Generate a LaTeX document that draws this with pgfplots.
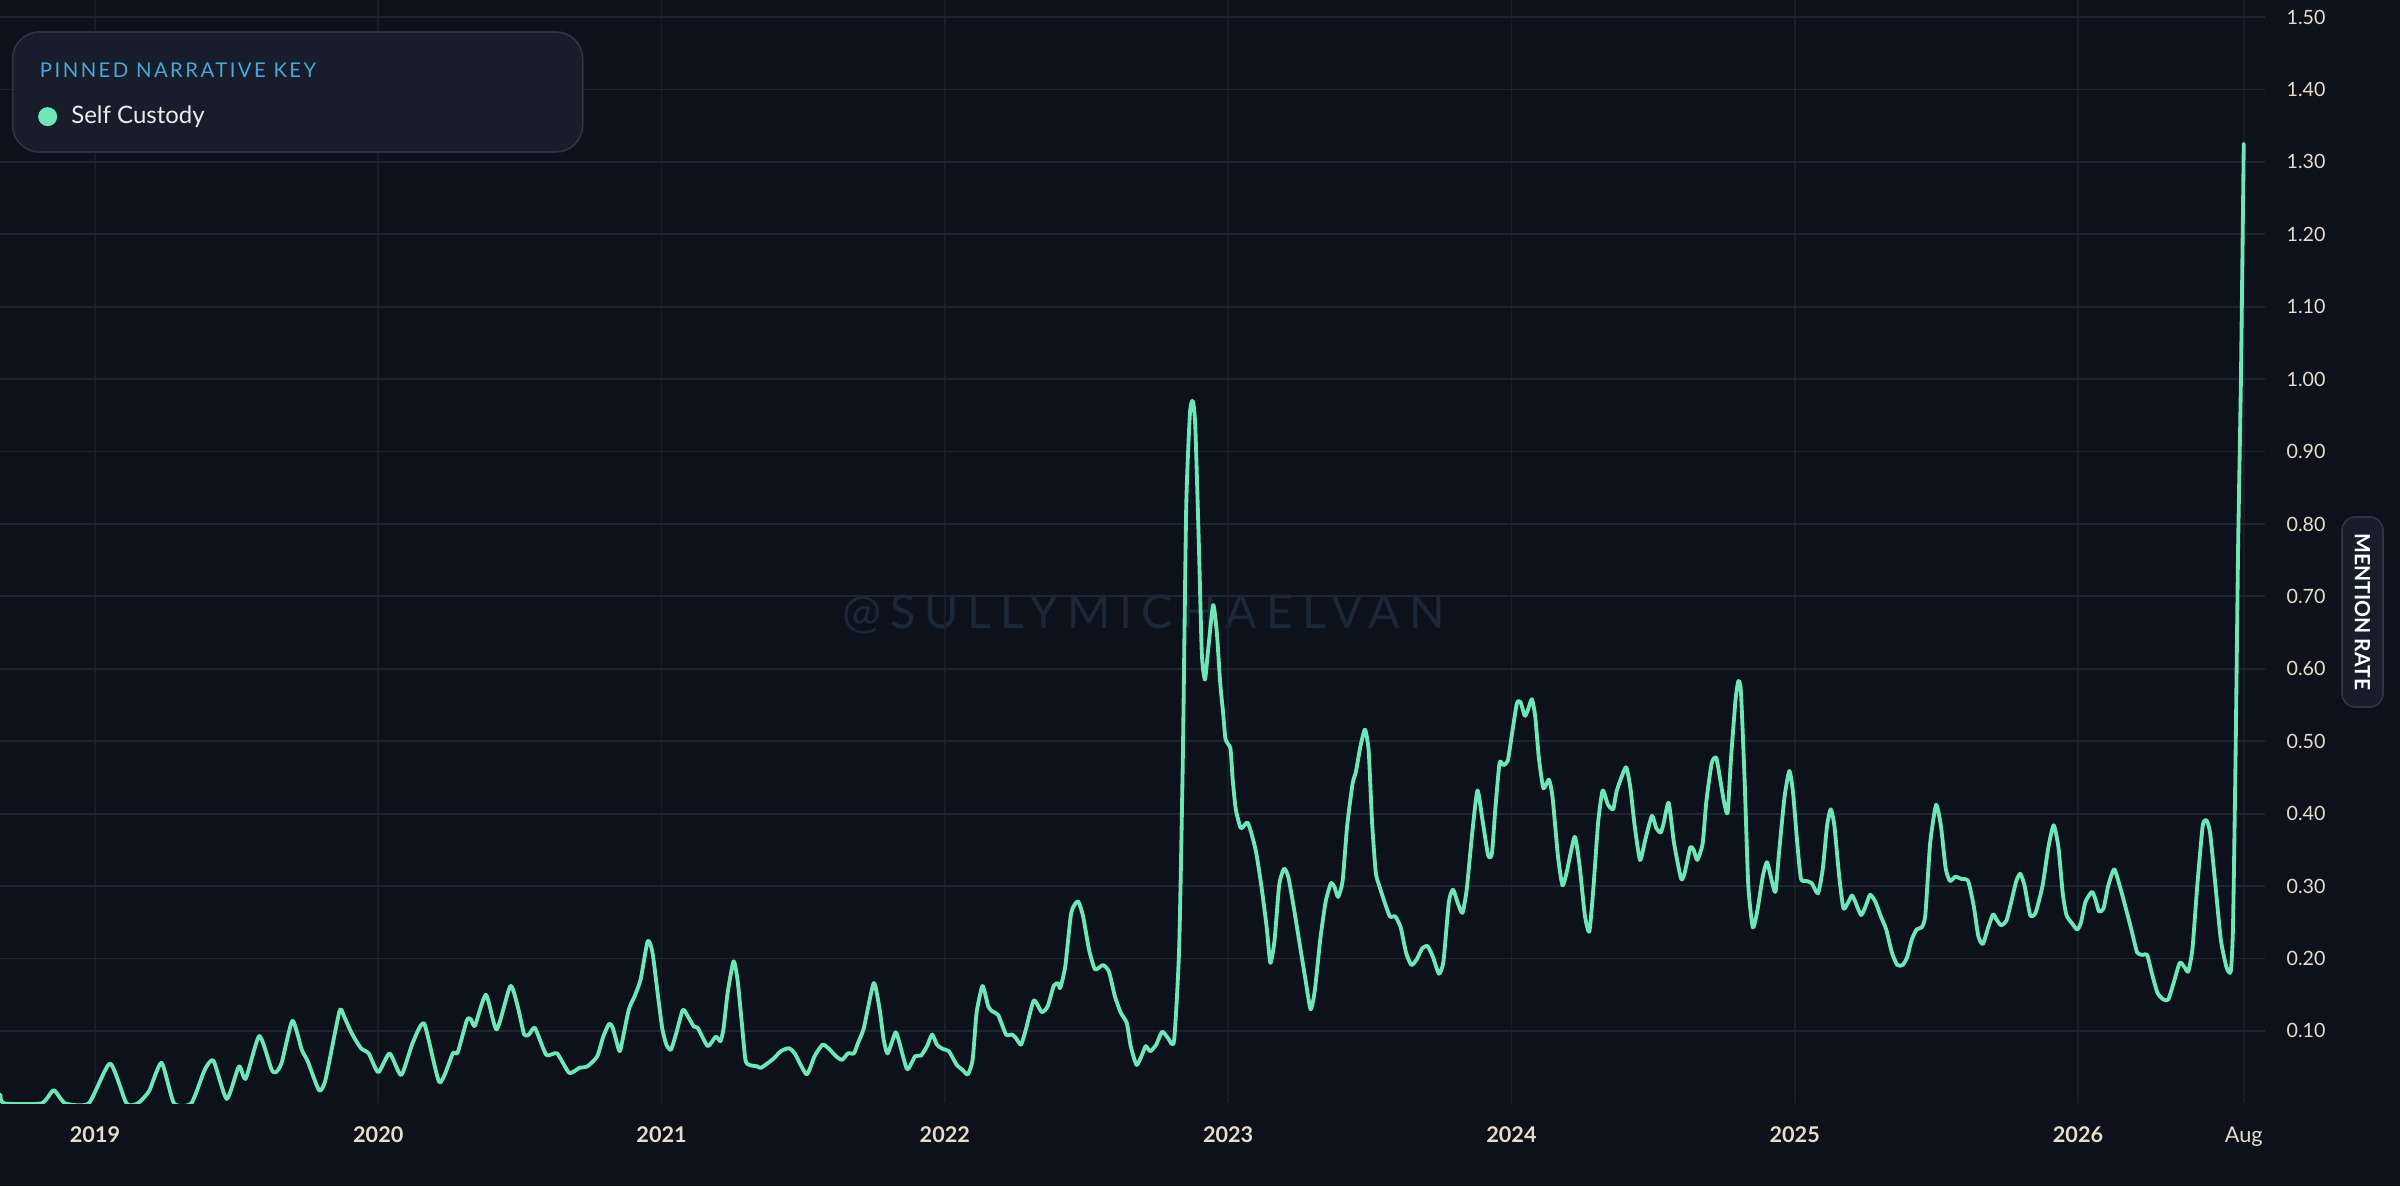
\documentclass[border=0pt]{standalone}
\usepackage{fontspec}
\setmainfont{Lato}
\usepackage{pgfplots}
\pgfplotsset{compat=1.18}
\definecolor{bgcol}{HTML}{0C111C}
\definecolor{hgridcol}{HTML}{1F2531}
\definecolor{vgridcol}{HTML}{181E29}
\definecolor{linecol}{HTML}{6EE7B7}
\definecolor{tickcol}{HTML}{E8DEC8}
\definecolor{boxfill}{HTML}{171D2A}
\definecolor{boxdraw}{HTML}{2D3442}
\definecolor{keyblue}{HTML}{4BA6D8}
\definecolor{wmcol}{HTML}{1A2839}
\begin{document}
\begin{tikzpicture}
\fill[bgcol] (0,-24.9pt) rectangle (720pt,331pt);
\path[use as bounding box] (0,-24.9pt) rectangle (720pt,331pt);
\node[anchor=base west, inner sep=0pt, text=wmcol, font={\fontsize{14}{16}\selectfont\addfontfeatures{LetterSpace=19}}] at (252.6pt,142.5pt) {@SULLYMICHAELVAN};
\begin{axis}[
  scale only axis,
  width=679.5pt, height=331pt,
  xmin=2018.6647, xmax=2026.66,
  ymin=0, ymax=1.5235,
  axis line style={draw=none},
  tick style={draw=none},
  grid=major,
  x grid style={vgridcol, line width=0.55pt},
  y grid style={hgridcol, line width=0.55pt},
  xtick={2019,2020,2021,2022,2023,2024,2025,2026,2026.585},
  xticklabels={\bfseries 2019,\bfseries 2020,\bfseries 2021,\bfseries 2022,\bfseries 2023,\bfseries 2024,\bfseries 2025,\bfseries 2026,Aug},
  ytick={0.1,0.2,0.3,0.4,0.5,0.6,0.7,0.8,0.9,1.0,1.1,1.2,1.3,1.4,1.5},
  yticklabels={0.10,0.20,0.30,0.40,0.50,0.60,0.70,0.80,0.90,1.00,1.10,1.20,1.30,1.40,1.50},
  yticklabel pos=right,
  y tick label style={anchor=west, inner sep=0pt, xshift=6.3pt, text=tickcol, font=\fontsize{5.9}{7}\selectfont},
  x tick label style={anchor=base, inner sep=0pt, yshift=-11.6pt, text=tickcol, font=\fontsize{6.5}{7}\selectfont},
  /pgf/number format/assume math mode=true,
]
\addplot[linecol, line width=1.15pt, line join=round, line cap=round, smooth, tension=0.35] coordinates {
(2018.666,0.012) (2018.679,0.000) (2018.811,0.000) (2018.854,0.018) (2018.895,0.000)
(2018.978,0.000) (2019.053,0.055) (2019.111,0.000) (2019.151,0.000) (2019.191,0.017)
(2019.235,0.056) (2019.279,0.000) (2019.340,0.000) (2019.387,0.046) (2019.418,0.059)
(2019.465,0.006) (2019.508,0.051) (2019.532,0.034) (2019.580,0.093) (2019.623,0.047)
(2019.639,0.043) (2019.659,0.056) (2019.697,0.114) (2019.730,0.074) (2019.751,0.058)
(2019.791,0.018) (2019.814,0.033) (2019.863,0.127) (2019.879,0.120) (2019.906,0.097)
(2019.939,0.076) (2019.966,0.069) (2020.000,0.043) (2020.040,0.069) (2020.081,0.039)
(2020.121,0.083) (2020.162,0.110) (2020.216,0.029) (2020.263,0.069) (2020.280,0.070)
(2020.313,0.115) (2020.327,0.116) (2020.341,0.107) (2020.380,0.150) (2020.418,0.102)
(2020.466,0.162) (2020.492,0.134) (2020.515,0.095) (2020.532,0.095) (2020.553,0.104)
(2020.593,0.067) (2020.631,0.069) (2020.674,0.042) (2020.710,0.049) (2020.738,0.051)
(2020.773,0.065) (2020.794,0.092) (2020.815,0.110) (2020.828,0.104) (2020.849,0.074)
(2020.856,0.076) (2020.884,0.129) (2020.905,0.148) (2020.926,0.171) (2020.951,0.224)
(2020.968,0.208) (2020.989,0.143) (2021.003,0.102) (2021.017,0.081) (2021.033,0.074)
(2021.052,0.097) (2021.075,0.129) (2021.093,0.120) (2021.114,0.106) (2021.128,0.104)
(2021.163,0.079) (2021.191,0.092) (2021.208,0.086) (2021.219,0.104) (2021.233,0.152)
(2021.254,0.196) (2021.268,0.171) (2021.282,0.116) (2021.296,0.060) (2021.310,0.053)
(2021.338,0.051) (2021.351,0.049) (2021.393,0.061) (2021.421,0.072) (2021.449,0.076)
(2021.470,0.069) (2021.512,0.040) (2021.540,0.065) (2021.568,0.081) (2021.589,0.076)
(2021.616,0.065) (2021.637,0.060) (2021.658,0.069) (2021.679,0.069) (2021.693,0.083)
(2021.714,0.104) (2021.749,0.166) (2021.770,0.129) (2021.784,0.088) (2021.798,0.069)
(2021.826,0.098) (2021.840,0.083) (2021.867,0.047) (2021.895,0.065) (2021.916,0.066)
(2021.937,0.079) (2021.955,0.095) (2021.972,0.081) (2021.993,0.075) (2022.014,0.072)
(2022.042,0.053) (2022.063,0.046) (2022.081,0.040) (2022.098,0.060) (2022.112,0.125)
(2022.133,0.162) (2022.153,0.134) (2022.167,0.127) (2022.188,0.122) (2022.216,0.095)
(2022.237,0.095) (2022.251,0.090) (2022.269,0.081) (2022.286,0.102) (2022.314,0.142)
(2022.342,0.126) (2022.363,0.134) (2022.384,0.162) (2022.400,0.166) (2022.407,0.159)
(2022.425,0.189) (2022.446,0.263) (2022.470,0.279) (2022.488,0.258) (2022.509,0.212)
(2022.530,0.185) (2022.558,0.191) (2022.579,0.182) (2022.600,0.148) (2022.621,0.125)
(2022.642,0.111) (2022.656,0.079) (2022.677,0.053) (2022.698,0.069) (2022.709,0.079)
(2022.725,0.072) (2022.746,0.081) (2022.767,0.099) (2022.788,0.090) (2022.809,0.086)
(2022.827,0.214) (2022.840,0.476) (2022.852,0.824) (2022.865,0.952) (2022.875,0.970)
(2022.884,0.935) (2022.897,0.766) (2022.907,0.621) (2022.918,0.585) (2022.928,0.621)
(2022.947,0.688) (2022.960,0.650) (2022.972,0.580) (2022.982,0.540) (2022.991,0.502)
(2023.008,0.490) (2023.016,0.447) (2023.027,0.406) (2023.045,0.380) (2023.067,0.388)
(2023.079,0.377) (2023.098,0.348) (2023.117,0.301) (2023.136,0.243) (2023.149,0.194)
(2023.164,0.226) (2023.180,0.301) (2023.197,0.324) (2023.212,0.313) (2023.231,0.272)
(2023.250,0.226) (2023.272,0.173) (2023.291,0.130) (2023.306,0.156) (2023.325,0.226)
(2023.344,0.278) (2023.363,0.304) (2023.376,0.298) (2023.388,0.285) (2023.404,0.307)
(2023.420,0.383) (2023.439,0.441) (2023.451,0.458) (2023.467,0.493) (2023.483,0.516)
(2023.496,0.487) (2023.508,0.388) (2023.521,0.319) (2023.533,0.301) (2023.552,0.278)
(2023.571,0.258) (2023.590,0.258) (2023.609,0.243) (2023.628,0.208) (2023.647,0.191)
(2023.666,0.199) (2023.685,0.214) (2023.704,0.217) (2023.723,0.202) (2023.744,0.179)
(2023.760,0.196) (2023.779,0.278) (2023.794,0.295) (2023.811,0.276) (2023.827,0.263)
(2023.842,0.295) (2023.861,0.371) (2023.880,0.432) (2023.899,0.388) (2023.918,0.342)
(2023.931,0.345) (2023.943,0.406) (2023.958,0.470) (2023.972,0.467) (2023.987,0.473)
(2024.000,0.505) (2024.019,0.552) (2024.032,0.554) (2024.047,0.535) (2024.057,0.542)
(2024.072,0.558) (2024.084,0.534) (2024.097,0.476) (2024.113,0.435) (2024.132,0.447)
(2024.145,0.423) (2024.164,0.342) (2024.180,0.301) (2024.195,0.319) (2024.223,0.368)
(2024.240,0.330) (2024.259,0.260) (2024.275,0.237) (2024.290,0.301) (2024.306,0.388)
(2024.322,0.432) (2024.340,0.413) (2024.359,0.406) (2024.372,0.432) (2024.404,0.464)
(2024.420,0.435) (2024.435,0.383) (2024.454,0.336) (2024.473,0.365) (2024.496,0.397)
(2024.511,0.380) (2024.527,0.374) (2024.538,0.388) (2024.555,0.415) (2024.574,0.359)
(2024.599,0.310) (2024.612,0.319) (2024.631,0.353) (2024.643,0.350) (2024.656,0.336)
(2024.675,0.359) (2024.688,0.417) (2024.707,0.470) (2024.723,0.477) (2024.737,0.447)
(2024.750,0.417) (2024.763,0.401) (2024.775,0.476) (2024.791,0.557) (2024.801,0.583)
(2024.810,0.569) (2024.823,0.447) (2024.836,0.301) (2024.852,0.243) (2024.868,0.266)
(2024.887,0.313) (2024.902,0.333) (2024.919,0.307) (2024.932,0.292) (2024.945,0.348)
(2024.964,0.423) (2024.981,0.459) (2024.994,0.429) (2025.009,0.359) (2025.022,0.310)
(2025.041,0.307) (2025.060,0.304) (2025.082,0.290) (2025.099,0.324) (2025.114,0.383)
(2025.127,0.406) (2025.140,0.383) (2025.157,0.313) (2025.172,0.269) (2025.189,0.278)
(2025.202,0.287) (2025.214,0.278) (2025.234,0.260) (2025.250,0.272) (2025.266,0.288)
(2025.285,0.278) (2025.304,0.258) (2025.323,0.240) (2025.343,0.208) (2025.362,0.191)
(2025.381,0.191) (2025.397,0.202) (2025.413,0.226) (2025.430,0.240) (2025.448,0.243)
(2025.461,0.260) (2025.478,0.359) (2025.499,0.412) (2025.516,0.383) (2025.533,0.324)
(2025.548,0.307) (2025.567,0.313) (2025.587,0.310) (2025.612,0.307) (2025.632,0.272)
(2025.648,0.231) (2025.664,0.220) (2025.683,0.243) (2025.700,0.261) (2025.712,0.254)
(2025.728,0.246) (2025.747,0.252) (2025.766,0.281) (2025.782,0.307) (2025.796,0.317)
(2025.811,0.301) (2025.831,0.260) (2025.850,0.263) (2025.875,0.301) (2025.895,0.353)
(2025.914,0.384) (2025.931,0.353) (2025.946,0.290) (2025.959,0.260) (2025.978,0.249)
(2025.997,0.240) (2026.010,0.249) (2026.026,0.278) (2026.049,0.292) (2026.062,0.281)
(2026.074,0.265) (2026.090,0.269) (2026.107,0.301) (2026.128,0.323) (2026.151,0.295)
(2026.175,0.260) (2026.190,0.237) (2026.209,0.208) (2026.229,0.205) (2026.244,0.205)
(2026.261,0.179) (2026.280,0.153) (2026.299,0.144) (2026.318,0.143) (2026.338,0.167)
(2026.359,0.194) (2026.376,0.188) (2026.389,0.182) (2026.404,0.214) (2026.421,0.301)
(2026.440,0.383) (2026.453,0.391) (2026.466,0.374) (2026.485,0.301) (2026.504,0.226)
(2026.524,0.188) (2026.539,0.182) (2026.547,0.243) (2026.556,0.476) (2026.565,0.766)
(2026.575,1.000) (2026.585,1.325)
};
\end{axis}
% legend box
\draw[fill=boxfill, draw=boxdraw, line width=0.5pt, rounded corners=8pt] (3.8pt,285.4pt) rectangle (174.8pt,321.4pt);
\node[anchor=base west, inner sep=0pt, text=keyblue, font={\fontsize{6.1}{7}\selectfont\addfontfeatures{LetterSpace=12}}] at (11.8pt,307.8pt) {PINNED NARRATIVE KEY};
\fill[linecol] (14.3pt,296pt) circle (2.85pt);
\node[anchor=base west, inner sep=0pt, text=white!92!black, font=\fontsize{7.2}{8}\selectfont] at (21.2pt,293.8pt) {Self Custody};
% mention rate tab
\draw[fill=boxfill, draw=boxdraw, line width=0.5pt, rounded corners=4pt] (702.6pt,118.9pt) rectangle (714.9pt,175.9pt);
\node[rotate=-90, inner sep=0pt, text=white, font=\fontsize{6.3}{7}\selectfont\bfseries] at (708.75pt,147.4pt) {MENTION RATE};
\end{tikzpicture}
\end{document}
